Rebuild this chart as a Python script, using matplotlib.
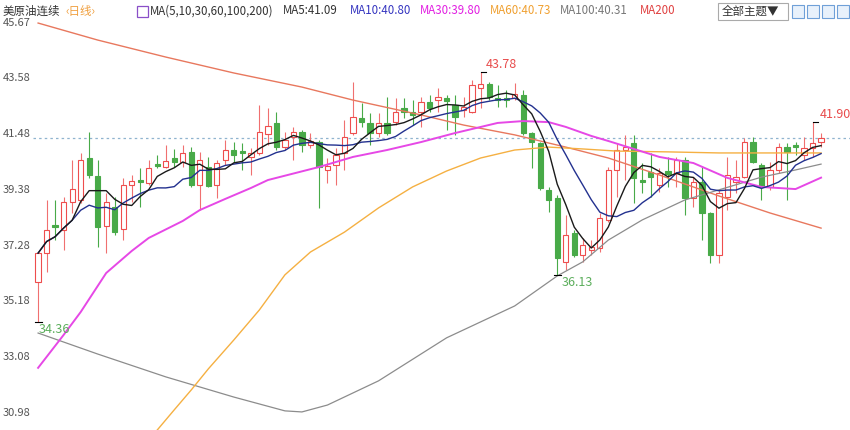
import numpy as np
import pandas as pd
import matplotlib
matplotlib.use("Agg")
import matplotlib.pyplot as plt
from matplotlib.patches import Rectangle

plt.rcParams['font.family'] = ['Noto Sans CJK SC', 'DejaVu Sans']

# daily candles
opens = [35.87, 36.96, 38.02, 37.83, 38.88, 38.96, 40.54, 39.86, 37.98, 38.70,
         37.87, 39.52, 39.71, 39.60, 40.31, 40.20, 40.54, 40.39, 40.77, 39.52,
         40.20, 39.52, 40.46, 40.84, 40.80, 40.58, 40.73, 41.44, 41.86, 40.95,
         41.33, 41.52, 41.03, 41.14, 40.09, 40.28, 40.73, 41.48, 42.05, 41.86,
         41.48, 41.86, 41.90, 42.42, 42.27, 42.27, 42.65, 42.72, 42.80, 42.53,
         42.35, 42.27, 43.17, 43.33, 42.80, 42.80, 42.80, 42.91, 41.48, 41.10,
         39.34, 39.03, 36.63, 37.72, 36.89, 37.08, 37.15, 38.20, 40.09, 40.84,
         41.10, 39.71, 40.01, 39.52, 40.05, 39.97, 40.46, 39.03, 39.64, 38.47,
         36.89, 39.07, 39.64, 39.82, 41.14, 40.28, 39.45, 40.09, 40.95, 41.03,
         40.65, 40.92, 41.14]
highs = [37.00, 38.96, 38.96, 39.07, 40.46, 40.73, 41.52, 40.46, 39.22, 39.07,
         39.79, 39.90, 40.16, 40.46, 40.65, 41.03, 40.88, 41.03, 40.95, 40.77,
         40.58, 40.46, 41.22, 41.14, 41.10, 40.92, 42.53, 42.42, 42.27, 41.52,
         41.71, 41.59, 41.48, 41.22, 40.54, 40.92, 41.97, 43.40, 42.61, 42.23,
         42.23, 42.84, 42.80, 42.80, 42.72, 42.84, 42.91, 43.17, 42.91, 42.91,
         42.84, 43.48, 43.78, 43.40, 43.29, 43.10, 43.36, 43.10, 41.52, 41.14,
         39.45, 39.15, 38.39, 37.83, 37.53, 37.45, 38.47, 40.20, 41.10, 41.41,
         41.41, 40.35, 40.73, 40.16, 40.58, 40.58, 40.58, 39.82, 40.20, 38.51,
         39.34, 40.58, 40.46, 41.29, 41.33, 40.35, 40.39, 41.10, 41.10, 41.14,
         41.33, 41.90, 41.48]
lows = [34.36, 36.25, 37.45, 37.08, 38.47, 38.85, 39.79, 37.19, 36.96, 37.64,
        37.45, 38.88, 38.70, 39.52, 40.16, 40.16, 40.20, 40.20, 39.45, 38.58,
        39.45, 39.03, 40.28, 40.39, 40.09, 39.90, 40.65, 41.03, 40.84, 40.84,
        40.46, 40.77, 40.92, 38.66, 39.60, 39.52, 40.09, 41.41, 41.71, 41.03,
        41.33, 41.41, 41.78, 42.05, 41.78, 41.71, 42.27, 42.27, 41.59, 41.41,
        42.08, 42.23, 42.42, 42.72, 42.46, 42.46, 42.72, 41.41, 40.16, 39.34,
        38.51, 36.13, 36.32, 36.81, 36.63, 36.89, 37.00, 38.13, 39.07, 39.71,
        38.85, 39.22, 39.07, 39.26, 39.45, 39.45, 38.39, 38.70, 37.45, 36.59,
        36.59, 38.58, 39.22, 39.79, 40.35, 38.96, 39.34, 39.97, 38.96, 40.65,
        40.46, 40.58, 40.95]
closes = [36.96, 37.83, 37.94, 38.88, 39.37, 40.46, 39.90, 37.94, 38.88, 37.75,
          39.52, 39.67, 39.64, 40.16, 40.24, 40.43, 40.39, 40.73, 39.52, 40.46,
          39.49, 40.35, 40.84, 40.65, 40.73, 40.73, 41.52, 41.74, 40.95, 41.22,
          41.52, 41.03, 41.18, 40.20, 40.24, 40.65, 41.33, 42.08, 41.90, 41.48,
          41.86, 41.48, 42.27, 42.27, 42.16, 42.65, 42.42, 42.84, 42.69, 42.08,
          42.46, 43.29, 43.33, 42.84, 42.72, 42.72, 42.95, 41.48, 41.14, 39.41,
          38.96, 36.78, 37.64, 36.89, 37.26, 37.19, 38.28, 40.09, 40.84, 40.95,
          39.79, 39.64, 39.82, 39.97, 39.94, 40.46, 39.03, 39.64, 38.47, 36.89,
          39.22, 39.90, 39.82, 41.14, 40.39, 39.45, 40.09, 40.95, 40.77, 40.95,
          40.92, 41.10, 41.29]

# longer averages need history before the window, so read them off the picture
ma30_idx = [0, 3, 5, 8, 11, 13, 17, 19, 22, 25, 27, 33, 37, 41, 45, 49, 54, 57,
            60, 62, 65, 67, 73, 77, 81, 85, 89, 92]
ma30_val = [32.64, 33.88, 34.74, 36.21, 37.04, 37.53, 38.17, 38.58, 39.00, 39.41,
            39.71, 40.20, 40.58, 40.84, 41.14, 41.48, 41.86, 41.93, 41.89, 41.71,
            41.37, 41.18, 40.58, 40.35, 39.79, 39.45, 39.37, 39.80]
ma60_idx = [14, 16, 18, 20, 23, 26, 29, 32, 36, 40, 44, 48, 52, 56, 60, 64, 68,
            74, 80, 86, 92]
ma60_val = [30.30, 31.06, 31.81, 32.60, 33.69, 34.82, 36.14, 37.00, 37.75, 38.66,
            39.45, 40.05, 40.54, 40.84, 40.95, 40.88, 40.80, 40.77, 40.73, 40.73,
            40.73]
ma100_idx = [0, 7, 15, 23, 29, 31, 34, 40, 48, 56, 61, 64, 67, 71, 76, 80, 85,
             89, 92]
ma100_val = [33.95, 33.16, 32.30, 31.54, 31.02, 30.98, 31.24, 32.15, 33.77, 34.97,
             36.10, 36.63, 37.45, 38.21, 38.96, 39.34, 39.82, 40.09, 40.31]
ma200_idx = [0, 7, 15, 23, 31, 37, 45, 50, 56, 62, 67, 73, 80, 86, 92]
ma200_val = [45.62, 44.98, 44.34, 43.74, 43.21, 42.72, 42.16, 41.78, 41.41, 40.95,
             40.54, 39.90, 39.11, 38.47, 37.90]

yticks = [45.67, 43.58, 41.48, 39.38, 37.28, 35.18, 33.08, 30.98]

UP = '#ee4d4d'
DOWN = '#48aa48'

fig = plt.figure(figsize=(8.5, 4.3), dpi=100)
ax = fig.add_axes([33 / 850, 0, 817 / 850, 412 / 430])

n = len(closes)
x = np.arange(n)
o = np.array(opens)
c = np.array(closes)
up = c >= o

# wicks first, bodies on top
ax.vlines(x[up], np.array(lows)[up], np.array(highs)[up], color='#f07070', lw=0.8, zorder=2)
ax.vlines(x[~up], np.array(lows)[~up], np.array(highs)[~up], color=DOWN, lw=0.8, zorder=2)
w = 0.62
for i in range(n):
    bot = min(o[i], c[i])
    h = max(abs(c[i] - o[i]), 0.04)
    if up[i]:
        ax.add_patch(Rectangle((i - w / 2, bot), w, h, facecolor='white',
                               edgecolor=UP, lw=0.8, zorder=3))
    else:
        ax.add_patch(Rectangle((i - w / 2, bot), w, h, facecolor=DOWN,
                               edgecolor=DOWN, lw=0.8, zorder=3))

s = pd.Series(closes)
ma5 = s.rolling(5, min_periods=1).mean()
ma10 = s.rolling(10, min_periods=1).mean()

ax.plot(ma200_idx, ma200_val, color='#e8785e', lw=1.0, zorder=4)
ax.plot(ma100_idx, ma100_val, color='#8c8c8c', lw=0.9, zorder=4)
ax.plot(ma60_idx, ma60_val, color='#f5b042', lw=1.0, zorder=4)
ax.plot(ma30_idx, ma30_val, color='#e648e6', lw=1.4, zorder=4)
ax.plot(x, ma10, color='#23318f', lw=1.0, zorder=5)
ax.plot(x, ma5, color='#1a1a1a', lw=1.0, zorder=5)

# last price line
ax.axhline(closes[-1], color='#8fb3cf', lw=0.9, ls=(0, (2, 2.5)), zorder=1)

# high / low marks
ih = int(np.argmax(highs))
il = int(np.argmin(lows))
ax.plot([ih, ih + 0.6], [highs[ih], highs[ih]], color='black', lw=0.8, zorder=6)
ax.text(ih + 0.6, highs[ih] + 0.02, f'{highs[ih]:.2f}', color='#e84c4c', fontsize=9,
        va='bottom', ha='left', zorder=6)
ax.plot([n - 2, n - 1.4], [highs[n - 2], highs[n - 2]], color='black', lw=0.8, zorder=6)
ax.text(n - 1.2, highs[n - 2] + 0.02, f'{highs[n - 2]:.2f}', color='#e84c4c',
        fontsize=9, va='bottom', ha='left', zorder=6)
j = 61
ax.plot([j - 0.4, j + 0.4], [lows[j], lows[j]], color='black', lw=0.8, zorder=6)
ax.text(j + 0.5, lows[j] - 0.05, f'{lows[j]:.2f}', color='#5cae5c', fontsize=9,
        va='top', ha='left', zorder=6)
ax.plot([il - 0.4, il + 0.4], [lows[il], lows[il]], color='black', lw=0.8, zorder=6)
ax.text(il + 0.1, lows[il] - 0.03, f'{lows[il]:.2f}', color='#5cae5c', fontsize=9,
        va='top', ha='left', zorder=6)

ax.set_xlim(-0.6, 95.4)
ax.set_ylim(30.30, 45.81)
ax.set_yticks(yticks)
ax.set_yticklabels([f'{t:.2f}' for t in yticks])
ax.tick_params(axis='y', length=0, pad=2, labelsize=8, labelcolor='#555555')
ax.set_xticks([])
for sp in ax.spines.values():
    sp.set_visible(False)

# header line
def hdr(px, txt, col, size=8.3):
    fig.text(px / 850, 1 - 11 / 430, txt, color=col, fontsize=size, va='center', ha='left')

hdr(3, '美原油连续', '#333333')
hdr(65, '‹日线›', '#f0a040')
fig.patches.append(Rectangle((137 / 850, 1 - 17 / 430), 11 / 850, 11 / 430,
                             transform=fig.transFigure, fill=False,
                             edgecolor='#8a4fc8', lw=0.9))
hdr(150, 'MA(5,10,30,60,100,200)', '#333333')
hdr(283, 'MA5:41.09', '#333333')
hdr(350, 'MA10:40.80', '#3535c0')
hdr(420, 'MA30:39.80', '#e21ee2')
hdr(490, 'MA60:40.73', '#f0a030')
hdr(560, 'MA100:40.31', '#777777')
hdr(640, 'MA200', '#e04040')

fig.patches.append(Rectangle((718 / 850, 1 - 20 / 430), 70 / 850, 17 / 430,
                             transform=fig.transFigure, fill=False,
                             edgecolor='#aaaaaa', lw=0.8))
hdr(722, '全部主题▼', '#333333')
for k in range(4):
    fig.patches.append(Rectangle(((792 + 15 * k) / 850, 1 - 18 / 430), 12 / 850,
                                 13 / 430, transform=fig.transFigure,
                                 facecolor='#e8f1fb', edgecolor='#6fa0d8', lw=0.8))

fig.savefig('out.png', dpi=100)
